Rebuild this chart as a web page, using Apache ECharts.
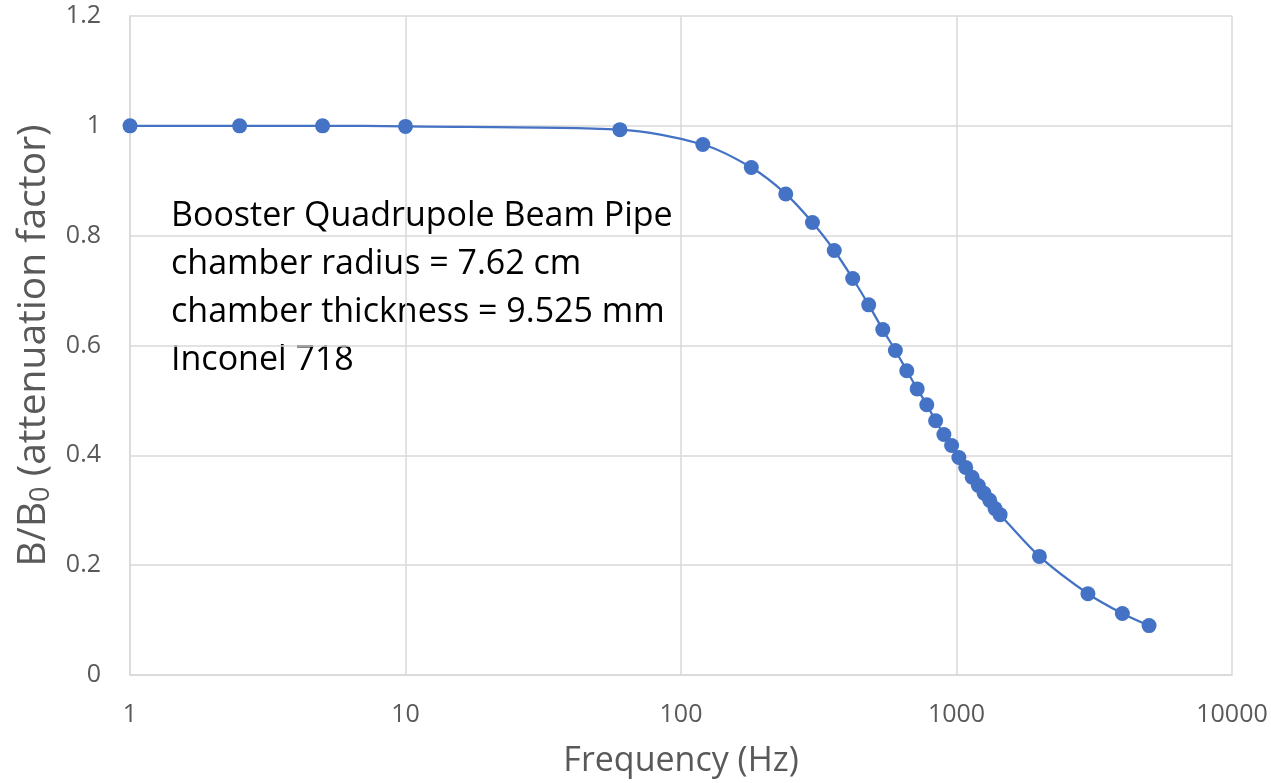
<!DOCTYPE html>
<html>
<head>
<meta charset="utf-8">
<script src="https://cdn.jsdelivr.net/npm/echarts@6/dist/echarts.min.js"></script>
<style>
  html, body { margin: 0; padding: 0; background: #fff; }
  #chart { width: 1271px; height: 783px; }
</style>
</head>
<body>
<div id="chart"></div>
<script>
// Frequency of each measurement (Hz)
const frequencies = [1, 2.5, 5, 10, 60, 120, 180, 240, 300, 360, 420, 480, 540, 600, 660, 720, 780, 840, 900, 960, 1020, 1080, 1140, 1200, 1260, 1320, 1380, 1440, 2000, 3000, 4000, 5000];
// Field attenuation factor B/B0
const attenuation = [1.0, 1.0, 1.0, 0.999, 0.993, 0.966, 0.924, 0.876, 0.824, 0.773, 0.722, 0.674, 0.629, 0.591, 0.554, 0.521, 0.492, 0.463, 0.438, 0.418, 0.396, 0.378, 0.360, 0.345, 0.331, 0.318, 0.303, 0.292, 0.216, 0.148, 0.112, 0.090];
const yTicks = [0, 0.2, 0.4, 0.6, 0.8, 1, 1.2];
const noteLines = [
  'Booster Quadrupole Beam Pipe',
  'chamber radius = 7.62 cm',
  'chamber thickness = 9.525 mm',
  'Inconel 718'
];

const FONT = '"Open Sans", Lato, sans-serif';
const GREY = '#595959';
const GRID = '#d9d9d9';
const points = frequencies.map((f, i) => [f, attenuation[i]]);

const chart = echarts.init(document.getElementById('chart'));
chart.setOption({
  animation: false,
  backgroundColor: '#fff',
  textStyle: { fontFamily: FONT },
  grid: { left: 130, right: 39, top: 16, bottom: 108 },
  xAxis: {
    type: 'log',
    logBase: 10,
    min: 1,
    max: 10000,
    name: 'Frequency (Hz)',
    nameLocation: 'middle',
    nameGap: 69,
    nameTextStyle: { fontSize: 34, color: GREY, fontFamily: FONT },
    axisLine: { show: true, lineStyle: { color: GRID, width: 1.5 } },
    axisTick: { show: false },
    minorTick: { show: false },
    splitLine: { show: true, lineStyle: { color: GRID, width: 1.5 } },
    axisLabel: {
      color: GREY, fontSize: 25, margin: 27, fontFamily: FONT,
      formatter: v => String(Math.round(v))
    }
  },
  yAxis: {
    type: 'value',
    min: yTicks[0],
    max: yTicks[yTicks.length - 1],
    interval: 0.2,
    name: '{m|B/B}{s|0}{m| (attenuation factor)}',
    nameLocation: 'middle',
    nameGap: 70,
    nameTextStyle: {
      color: GREY,
      fontFamily: FONT,
      rich: {
        m: { fontSize: 39, color: GREY, fontFamily: FONT },
        s: { fontSize: 27, color: GREY, fontFamily: FONT, verticalAlign: 'bottom', padding: [16, 0, 0, 0] }
      }
    },
    axisLine: { show: true, lineStyle: { color: GRID, width: 1.5 } },
    axisTick: { show: false },
    splitLine: { show: true, lineStyle: { color: GRID, width: 1.5 } },
    axisLabel: {
      color: GREY, fontSize: 25, margin: 29, fontFamily: FONT,
      formatter: v => String(Math.round(v * 10) / 10)
    }
  },
  graphic: [{
    type: 'text',
    left: 171,
    top: 192,
    style: {
      text: noteLines.join('\n'),
      fill: '#000',
      fontSize: 34,
      lineHeight: 48,
      fontFamily: FONT
    }
  }],
  series: [{
    type: 'line',
    data: points,
    smooth: 0.3,
    symbol: 'circle',
    symbolSize: 15,
    lineStyle: { color: '#4472C4', width: 2.25 },
    itemStyle: { color: '#4472C4' },
    z: 3
  }]
});
</script>
</body>
</html>
